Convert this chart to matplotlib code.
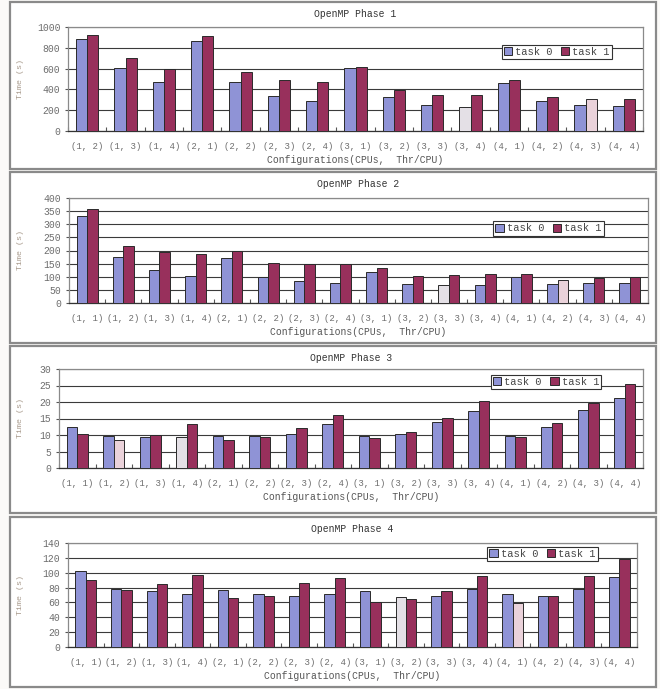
import matplotlib
matplotlib.use("Agg")
import matplotlib.pyplot as plt
import numpy as np
from matplotlib.patches import Rectangle, Patch

# configurations (CPUs, Thr/CPU)
configs_p1 = ["(1, 2)", "(1, 3)", "(1, 4)", "(2, 1)", "(2, 2)", "(2, 3)", "(2, 4)", "(3, 1)",
              "(3, 2)", "(3, 3)", "(3, 4)", "(4, 1)", "(4, 2)", "(4, 3)", "(4, 4)"]
configs = ["(1, 1)", "(1, 2)", "(1, 3)", "(1, 4)", "(2, 1)", "(2, 2)", "(2, 3)", "(2, 4)",
           "(3, 1)", "(3, 2)", "(3, 3)", "(3, 4)", "(4, 1)", "(4, 2)", "(4, 3)", "(4, 4)"]

# phase 1 (no (1,1) config)
p1_task0 = [881, 608, 469, 868, 469, 341, 289, 605, 325, 254, 232, 463, 286, 248, 238]
p1_task1 = [923, 704, 598, 910, 569, 492, 469, 617, 395, 347, 344, 486, 331, 305, 312]

# phase 2
p2_task0 = [333, 174, 124, 103, 172, 100, 82, 78, 119, 74, 70, 70, 98, 74, 77, 77]
p2_task1 = [360, 216, 196, 185, 199, 153, 150, 148, 135, 103, 107, 110, 110, 89, 96, 98]

# phase 3
p3_task0 = [12.5, 9.6, 9.5, 9.5, 9.8, 9.6, 10.3, 13.2, 9.8, 10.4, 14.0, 17.4, 9.8, 12.3, 17.7, 21.2]
p3_task1 = [10.4, 8.6, 9.9, 13.4, 8.6, 9.3, 12.0, 16.0, 9.1, 10.8, 15.2, 20.3, 9.5, 13.6, 19.8, 25.4]

# phase 4
p4_task0 = [102, 78, 75, 72, 77, 72, 68, 72, 75, 67, 69, 78, 71, 68, 78, 94]
p4_task1 = [90, 77, 85, 97, 66, 69, 86, 93, 60, 64, 76, 96, 59, 69, 96, 118]

ymax = [1000, 400, 30, 140]
ystep = [200, 50, 5, 20]

C0 = "#8f93d6"
C1 = "#98305c"
FADE0 = "#e4e0e6"
FADE1 = "#ead2da"
GRAY = "#6e6e6e"
FONT = ["Liberation Mono", "DejaVu Sans Mono"]

W, H = 660, 689
fig = plt.figure(figsize=(W / 100, H / 100), dpi=100)
fig.patch.set_facecolor("#fbfaf8")

# axes boxes in pixels: left, right, top, bottom
boxes = [(68, 643, 27, 131), (69, 648, 198, 303), (59, 643, 369, 468), (68, 637, 543, 647)]
frames = [(2, 169), (172, 343), (346, 513), (517, 687)]
leg_pos = [(0.85, 0.76), (0.828, 0.71), (0.834, 0.868), (0.834, 0.897)]
# washed out bars in the scan: (category index, task)
faded = [[(10, 0), (13, 1)], [(10, 0), (13, 1)], [(1, 1), (3, 0)], [(9, 0), (12, 1)]]

data = [(configs_p1, p1_task0, p1_task1), (configs, p2_task0, p2_task1),
        (configs, p3_task0, p3_task1), (configs, p4_task0, p4_task1)]

for i, (labels, t0, t1) in enumerate(data):
    fy0, fy1 = frames[i]
    fig.add_artist(Rectangle((10 / W, 1 - fy1 / H), 646 / W, (fy1 - fy0) / H,
                             transform=fig.transFigure, facecolor="white",
                             edgecolor="#8a8a8a", lw=1.6, zorder=0))
    l, r, t, b = boxes[i]
    ax = fig.add_axes([l / W, 1 - b / H, (r - l) / W, (b - t) / H])
    ax.set_zorder(1)
    n = len(labels)
    x = np.arange(n)
    w = 0.29
    c0 = [C0] * n
    c1 = [C1] * n
    for k, task in faded[i]:
        if task == 0:
            c0[k] = FADE0
        else:
            c1[k] = FADE1
    ax.bar(x - w / 2, t0, w, color=c0, edgecolor="#2a2a2a", lw=0.7, zorder=3)
    ax.bar(x + w / 2, t1, w, color=c1, edgecolor="#2a2a2a", lw=0.7, zorder=3)
    ax.set_xlim(-0.5, n - 0.5)
    ax.set_ylim(0, ymax[i])
    ax.set_yticks(np.arange(0, ymax[i] + 1, ystep[i]))
    ax.yaxis.grid(True, color="#3a3a3a", lw=0.8, zorder=0)
    ax.set_xticks(np.arange(n + 1) - 0.5)
    ax.set_xticklabels([])
    ax.tick_params(axis="x", which="major", direction="in", length=3, color="#555555")
    ax.set_xticks(x, minor=True)
    ax.set_xticklabels(labels, minor=True, fontsize=6.5, family=FONT, color=GRAY)
    ax.tick_params(axis="x", which="minor", length=0, pad=8)
    ax.tick_params(axis="y", length=2, labelsize=7, labelcolor=GRAY, color="#555555")
    for lab in ax.get_yticklabels():
        lab.set_family(FONT)
    for s in ax.spines.values():
        s.set_color("#8a8a8a")
        s.set_linewidth(0.9)
    ax.spines["bottom"].set_color("#333333")
    ax.set_xlabel("Configurations(CPUs,  Thr/CPU)", fontsize=7, family=FONT,
                  color="#555555", labelpad=3)
    fig.text(20 / W, 1 - (t + b) / 2 / H, "Time (s)", rotation=90, ha="center",
             va="center", fontsize=6, family=FONT, color="#a89a8c")
    fig.text((l + r) / 2 / W, 1 - (fy0 + 12) / H, "OpenMP Phase %d" % (i + 1),
             ha="center", va="center", fontsize=7, family=FONT, color="#333333")
    handles = [Patch(facecolor=C0, edgecolor="#2a2a2a", lw=0.7),
               Patch(facecolor=C1, edgecolor="#2a2a2a", lw=0.7)]
    leg = ax.legend(handles, ["task 0", "task 1"], ncol=2, loc="center",
                    bbox_to_anchor=leg_pos[i], prop={"family": FONT, "size": 7.5},
                    fancybox=False, framealpha=1, edgecolor="#333333",
                    handlelength=0.8, handleheight=0.8, handletextpad=0.3,
                    columnspacing=0.8, borderpad=0.2, borderaxespad=0)
    leg.get_frame().set_linewidth(0.8)
    for txt in leg.get_texts():
        txt.set_color("#444444")

fig.savefig("out.png", dpi=100, facecolor=fig.get_facecolor())
